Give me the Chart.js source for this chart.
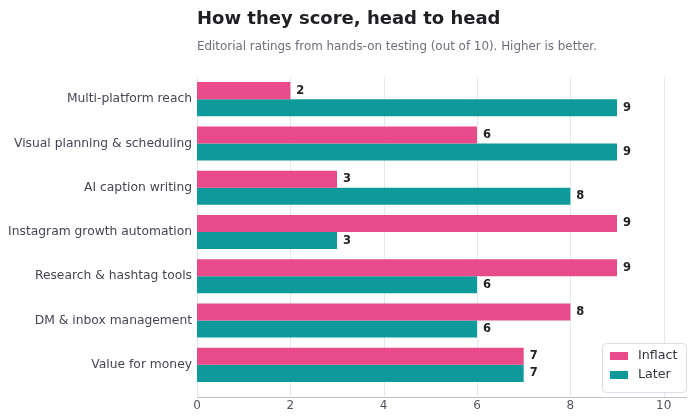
<!DOCTYPE html>
<html><head><meta charset="utf-8">
<script src="https://cdn.jsdelivr.net/npm/chart.js@4"></script>
<style>html,body{margin:0;padding:0;background:#fff;}canvas{display:block;}</style>
</head><body>
<canvas id="c" width="700" height="420"></canvas>
<script>
const categories = ["Multi-platform reach","Visual planning & scheduling","AI caption writing","Instagram growth automation","Research & hashtag tools","DM & inbox management","Value for money"];
const inflact = [2,6,3,9,9,8,7];
const later = [9,9,8,3,6,6,7];
const xTicks = [0,2,4,6,8,10];
const titleText = "How they score, head to head";
const subtitleText = "Editorial ratings from hands-on testing (out of 10). Higher is better.";
const FONT = "'DejaVu Sans', sans-serif";

const decor = {
  id: 'decor',
  beforeDatasetsDraw(chart) {
    const {ctx, chartArea, scales} = chart;
    ctx.save();
    ctx.strokeStyle = '#e0e9ec';
    ctx.lineWidth = 1;
    xTicks.forEach(v => {
      const x = Math.round(scales.x.getPixelForValue(v)) + 0.5;
      ctx.beginPath(); ctx.moveTo(x, chartArea.top); ctx.lineTo(x, 397); ctx.stroke();
    });
    ctx.strokeStyle = '#bfc3cb';
    ctx.beginPath(); ctx.moveTo(chartArea.left, 397.5); ctx.lineTo(chartArea.right, 397.5); ctx.stroke();
    ctx.restore();
  },
  afterDatasetsDraw(chart) {
    const {ctx, chartArea} = chart;
    ctx.save();
    ctx.font = "bold 11.5px " + FONT;
    ctx.fillStyle = '#222222';
    ctx.textAlign = 'left';
    ctx.textBaseline = 'middle';
    chart.data.datasets.forEach((ds, i) => {
      chart.getDatasetMeta(i).data.forEach((bar, j) => {
        ctx.fillText(String(ds.data[j]), bar.x + 6, bar.y);
      });
    });
    ctx.fillStyle = '#1f1f24';
    ctx.font = "bold 18px " + FONT;
    ctx.textBaseline = 'alphabetic';
    ctx.fillText(titleText, chartArea.left, 24);
    ctx.fillStyle = '#6e6e7c';
    ctx.font = "11.9px " + FONT;
    ctx.fillText(subtitleText, chartArea.left, 50);
    const lx = 602, ly = 343, lw = 84, lh = 49;
    ctx.fillStyle = 'rgba(255,255,255,0.9)';
    ctx.strokeStyle = '#dcdde2';
    ctx.lineWidth = 1;
    ctx.beginPath();
    ctx.roundRect(lx + 0.5, ly + 0.5, lw, lh, 4);
    ctx.fill(); ctx.stroke();
    ctx.font = "12.7px " + FONT;
    ctx.textBaseline = 'middle';
    chart.data.datasets.forEach((ds, i) => {
      const cy = 356 + i * 19;
      ctx.fillStyle = ds.backgroundColor;
      ctx.fillRect(610, cy - 4, 18, 8);
      ctx.fillStyle = '#333340';
      ctx.fillText(ds.label, 638, cy);
    });
    ctx.restore();
  }
};

new Chart(document.getElementById('c'), {
  type: 'bar',
  data: {
    labels: categories,
    datasets: [
      {label: 'Inflact', data: inflact, backgroundColor: '#e84a8a', categoryPercentage: 0.77, barPercentage: 1.0},
      {label: 'Later', data: later, backgroundColor: '#0e9a9a', categoryPercentage: 0.77, barPercentage: 1.0}
    ]
  },
  options: {
    indexAxis: 'y',
    responsive: false,
    animation: false,
    layout: {padding: {top: 77, right: 13, left: 0, bottom: 0}},
    plugins: {legend: {display: false}, tooltip: {enabled: false}},
    scales: {
      x: {
        min: 0, max: 10.5,
        afterBuildTicks(s) { s.ticks = xTicks.map(v => ({value: v})); },
        afterFit(s) { s.height = 33; },
        grid: {display: false, drawTicks: false},
        border: {display: false},
        ticks: {padding: 12, color: '#555560', font: {family: FONT, size: 12}}
      },
      y: {
        afterFit(s) { s.width = 197; },
        grid: {display: false, drawTicks: false},
        border: {display: false},
        ticks: {padding: 5, color: '#454555', font: {family: FONT, size: 12.3}}
      }
    }
  },
  plugins: [decor]
});
</script>
</body></html>
